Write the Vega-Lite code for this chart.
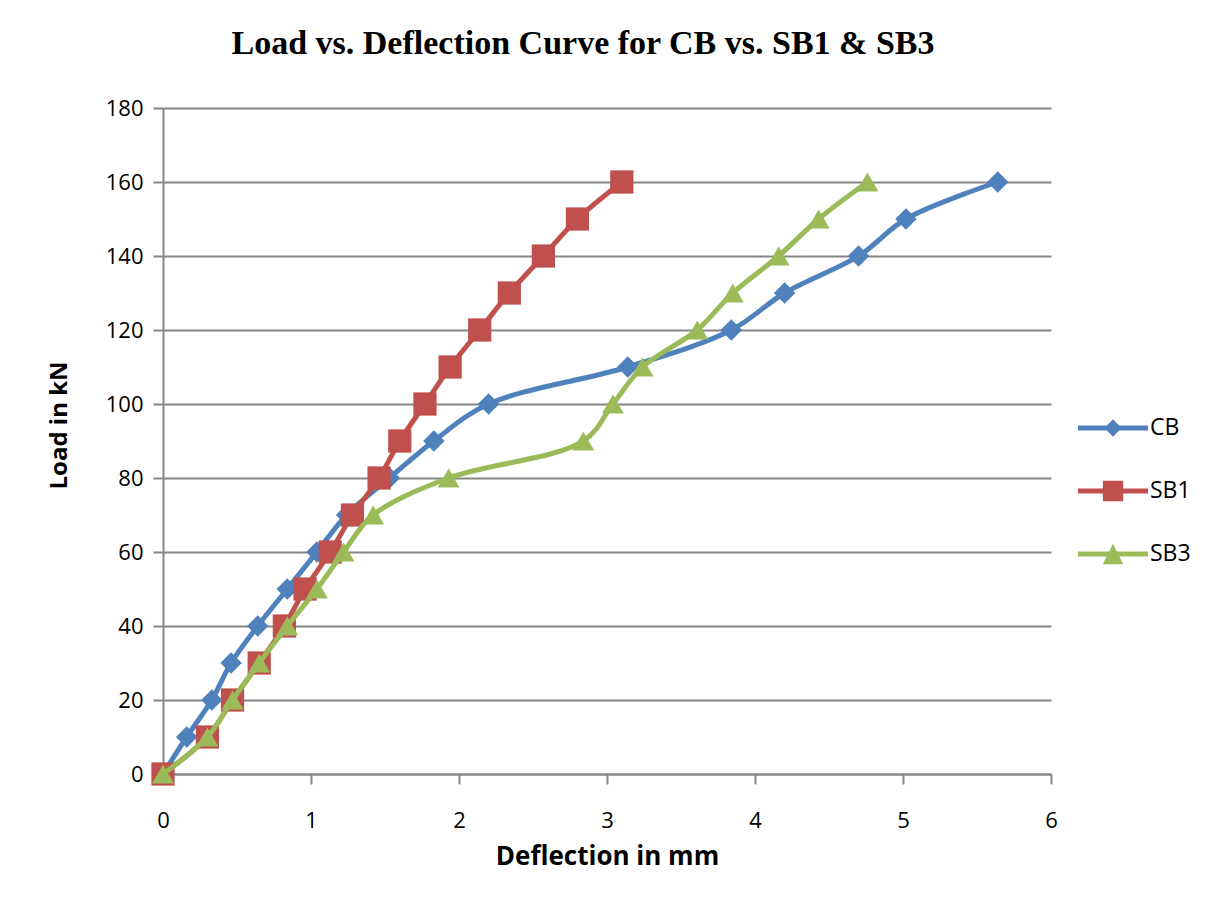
{
  "$schema": "https://vega.github.io/schema/vega-lite/v6.json",
  "autosize": "none",
  "width": 888,
  "height": 666,
  "padding": {"left": 163, "top": 108, "right": 160, "bottom": 127},
  "background": "white",
  "title": {"text": "Load vs. Deflection Curve for CB vs. SB1 & SB3", "font": "Liberation Serif", "fontSize": 34, "fontWeight": "bold", "color": "#000000", "anchor": "middle", "dx": -24, "offset": 36},
  "config": {
    "view": {"stroke": null},
    "axis": {"domainColor": "#868686", "domainWidth": 2, "tickColor": "#868686", "tickWidth": 2, "tickSize": 10, "gridColor": "#868686", "gridWidth": 2, "labelFont": "Open Sans", "labelFontSize": 22, "labelColor": "#000000", "titleFont": "Open Sans", "titleFontWeight": "bold", "titleColor": "#000000"}
  },
  "datasets": {
    "pts": [
      {"series": "CB", "defl": 0, "load": 0},
      {"series": "CB", "defl": 0.16, "load": 10},
      {"series": "CB", "defl": 0.33, "load": 20},
      {"series": "CB", "defl": 0.46, "load": 30},
      {"series": "CB", "defl": 0.64, "load": 40},
      {"series": "CB", "defl": 0.84, "load": 50},
      {"series": "CB", "defl": 1.04, "load": 60},
      {"series": "CB", "defl": 1.24, "load": 70},
      {"series": "CB", "defl": 1.53, "load": 80},
      {"series": "CB", "defl": 1.83, "load": 90},
      {"series": "CB", "defl": 2.2, "load": 100},
      {"series": "CB", "defl": 3.14, "load": 110},
      {"series": "CB", "defl": 3.84, "load": 120},
      {"series": "CB", "defl": 4.2, "load": 130},
      {"series": "CB", "defl": 4.7, "load": 140},
      {"series": "CB", "defl": 5.02, "load": 150},
      {"series": "CB", "defl": 5.64, "load": 160},
      {"series": "SB1", "defl": 0, "load": 0},
      {"series": "SB1", "defl": 0.3, "load": 10},
      {"series": "SB1", "defl": 0.47, "load": 20},
      {"series": "SB1", "defl": 0.65, "load": 30},
      {"series": "SB1", "defl": 0.82, "load": 40},
      {"series": "SB1", "defl": 0.96, "load": 50},
      {"series": "SB1", "defl": 1.13, "load": 60},
      {"series": "SB1", "defl": 1.28, "load": 70},
      {"series": "SB1", "defl": 1.46, "load": 80},
      {"series": "SB1", "defl": 1.6, "load": 90},
      {"series": "SB1", "defl": 1.77, "load": 100},
      {"series": "SB1", "defl": 1.94, "load": 110},
      {"series": "SB1", "defl": 2.14, "load": 120},
      {"series": "SB1", "defl": 2.34, "load": 130},
      {"series": "SB1", "defl": 2.57, "load": 140},
      {"series": "SB1", "defl": 2.8, "load": 150},
      {"series": "SB1", "defl": 3.1, "load": 160},
      {"series": "SB3", "defl": 0, "load": 0},
      {"series": "SB3", "defl": 0.3, "load": 10},
      {"series": "SB3", "defl": 0.47, "load": 20},
      {"series": "SB3", "defl": 0.65, "load": 30},
      {"series": "SB3", "defl": 0.84, "load": 40},
      {"series": "SB3", "defl": 1.04, "load": 50},
      {"series": "SB3", "defl": 1.22, "load": 60},
      {"series": "SB3", "defl": 1.42, "load": 70},
      {"series": "SB3", "defl": 1.93, "load": 80},
      {"series": "SB3", "defl": 2.84, "load": 90},
      {"series": "SB3", "defl": 3.04, "load": 100},
      {"series": "SB3", "defl": 3.24, "load": 110},
      {"series": "SB3", "defl": 3.61, "load": 120},
      {"series": "SB3", "defl": 3.85, "load": 130},
      {"series": "SB3", "defl": 4.16, "load": 140},
      {"series": "SB3", "defl": 4.43, "load": 150},
      {"series": "SB3", "defl": 4.76, "load": 160}
    ]
  },
  "data": {"name": "pts"},
  "encoding": {
    "x": {"field": "defl", "type": "quantitative", "scale": {"domain": [0, 6], "nice": false, "zero": false},
      "axis": {"title": "Deflection in mm", "values": [0, 1, 2, 3, 4, 5, 6], "grid": false, "labelPadding": 26, "titleFontSize": 26, "titlePadding": 12, "labelFlush": false}},
    "y": {"field": "load", "type": "quantitative", "scale": {"domain": [0, 180], "nice": false},
      "axis": {"title": "Load in kN", "values": [0, 20, 40, 60, 80, 100, 120, 140, 160, 180], "grid": true, "labelPadding": 10, "titleFontSize": 24, "titlePadding": 34, "titleY": 317}}
  },
  "layer": [
    {"transform": [{"filter": "datum.series == 'CB'"}], "mark": {"type": "line", "color": "#4F81BD", "strokeWidth": 5, "interpolate": "catmull-rom"}},
    {"transform": [{"filter": "datum.series == 'CB'"}], "mark": {"type": "point", "filled": true, "opacity": 1, "color": "#4F81BD", "shape": "diamond", "size": 460}},
    {"transform": [{"filter": "datum.series == 'SB1'"}], "mark": {"type": "line", "color": "#C0504D", "strokeWidth": 5, "interpolate": "catmull-rom"}},
    {"transform": [{"filter": "datum.series == 'SB1'"}], "mark": {"type": "point", "filled": true, "opacity": 1, "color": "#C0504D", "shape": "square", "size": 540}},
    {"transform": [{"filter": "datum.series == 'SB3'"}], "mark": {"type": "line", "color": "#9BBB59", "strokeWidth": 5, "interpolate": "catmull-rom"}},
    {"transform": [{"filter": "datum.series == 'SB3'"}], "mark": {"type": "point", "filled": true, "opacity": 1, "color": "#9BBB59", "shape": "triangle-up", "size": 480}},
    {"mark": {"type": "point", "filled": true, "opacity": 0},
      "encoding": {
        "color": {"field": "series", "type": "nominal", "scale": {"domain": ["CB", "SB1", "SB3"], "range": ["#4F81BD", "#C0504D", "#9BBB59"]},
          "legend": {"title": null, "orient": "none", "legendX": 915, "legendY": 285, "padding": 0, "symbolSize": 4900, "symbolOpacity": 1, "symbolStrokeWidth": 0, "labelFont": "Open Sans", "labelFontSize": 23, "labelColor": "#000000", "labelOffset": 2, "rowPadding": 16}},
        "shape": {"field": "series", "type": "nominal", "scale": {"domain": ["CB", "SB1", "SB3"], "range": [
          "M-1,-0.07H1V0.07H-1Z M0,-0.25L0.25,0L0,0.25L-0.25,0Z",
          "M-1,-0.07H1V0.07H-1Z M-0.29,-0.29H0.29V0.29H-0.29Z",
          "M-1,-0.07H1V0.07H-1Z M0,-0.29L0.29,0.29H-0.29Z"
        ]}, "legend": {"title": null, "orient": "none", "legendX": 915, "legendY": 285, "padding": 0, "symbolSize": 4900, "symbolOpacity": 1, "symbolStrokeWidth": 0, "labelFont": "Open Sans", "labelFontSize": 23, "labelColor": "#000000", "labelOffset": 2, "rowPadding": 16}}
      }
    }
  ]
}
